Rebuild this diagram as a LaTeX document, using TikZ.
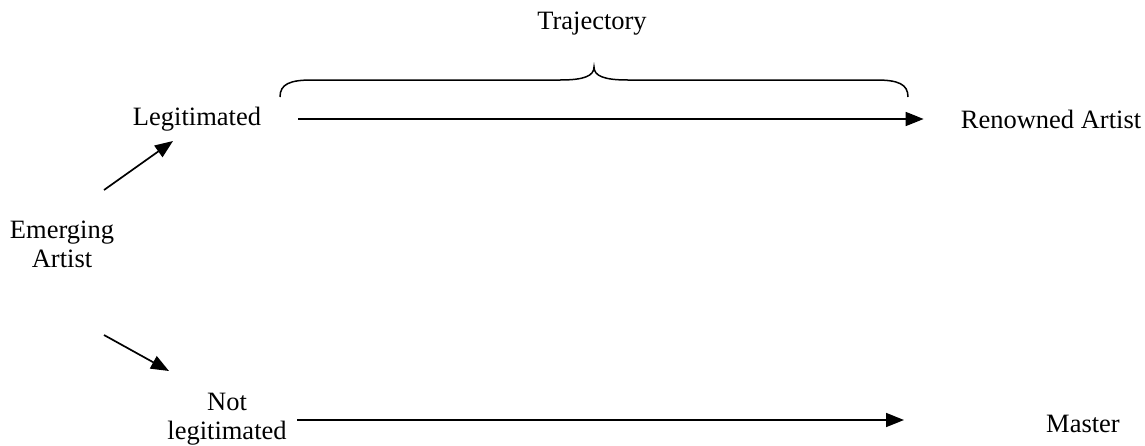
\documentclass[tikz,border=0pt]{standalone}
\usepackage{fontspec}
\setmainfont{Liberation Serif}
\usetikzlibrary{arrows.meta}
\begin{document}
\begin{tikzpicture}[x=1pt,y=-1pt,
  lbl/.style={font=\fontsize{26.5}{29}\selectfont, align=center, inner sep=0pt},
  arr/.style={line width=1.7pt, -{Triangle[length=18pt,width=14pt]}}]
\useasboundingbox (0,0) rectangle (1145,445);
\node[lbl] (traj) at (592,24) {Trajectory};
\node[lbl] (leg) at (197,119) {Legitimated};
\node[lbl] (ren) at (1051,119) {Renowned Artist};
\node[lbl] (emg) at (62,244) {Emerging\\Artist};
\node[lbl] (notleg) at (227,419) {Not\\legitimated};
\node[lbl] (master) at (1083,424) {Master};
% brace
\draw[line width=1.5pt] (280,97) .. controls (280,84) and (290,80) .. (312,80) -- (560,80)
  .. controls (584,80) and (594,76) .. (594,67)
  .. controls (594,76) and (604,80) .. (628,80) -- (876,80)
  .. controls (898,80) and (908,84) .. (908,97);
% connectors
\coordinate (e1s) at (104,190); \coordinate (e1e) at (173,141);
\coordinate (e2s) at (104,335); \coordinate (e2e) at (169,371);
\coordinate (b1s) at (297,420); \coordinate (b1e) at (904,420);
\draw[arr, shorten <=37pt, shorten >=37pt] (leg) -- (ren);
\draw[arr] (e1s) -- (e1e);
\draw[arr] (e2s) -- (e2e);
\draw[arr] (b1s) -- (b1e);
\end{tikzpicture}
\end{document}
